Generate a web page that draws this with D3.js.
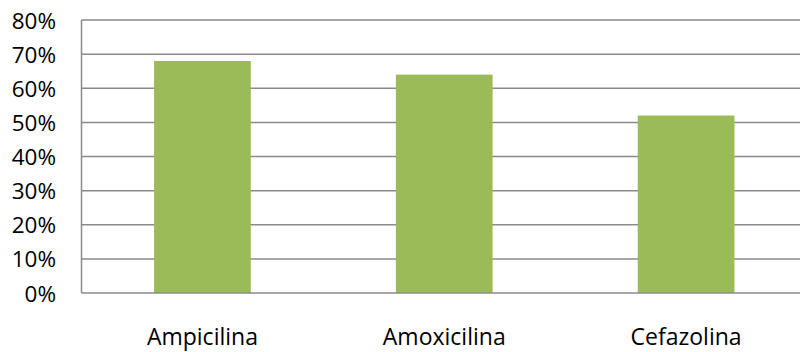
<!DOCTYPE html>
<html>
<head>
<meta charset="utf-8">
<script src="https://cdn.jsdelivr.net/npm/d3@7"></script>
<style>
  html, body { margin: 0; padding: 0; background: #fff; }
  svg { display: block; }
  text { font-family: "Open Sans", sans-serif; fill: #000; }
</style>
</head>
<body>
<svg id="chart" width="800" height="352"></svg>
<script>
const categories = ["Ampicilina", "Amoxicilina", "Cefazolina"];
const values = [0.68, 0.64, 0.52];
const yTicks = [0, 0.1, 0.2, 0.3, 0.4, 0.5, 0.6, 0.7, 0.8];

const svg = d3.select("#chart");
const plotLeft = 81.5, plotRight = 807, plotTop = 20, plotBottom = 293;

const x = d3.scaleBand().domain(categories).range([plotLeft, plotRight])
  .paddingInner(0.6).paddingOuter(0.3);
const y = d3.scaleLinear().domain([0, 0.8]).range([plotBottom, plotTop]);

// gridlines
svg.append("g").selectAll("line").data(yTicks.filter(d => d > 0)).join("line")
  .attr("x1", plotLeft).attr("x2", 800)
  .attr("y1", d => y(d)).attr("y2", d => y(d))
  .attr("stroke", "#8a8a8a").attr("stroke-width", 1.5);

// bars
svg.append("g").selectAll("rect").data(values).join("rect")
  .attr("x", (d, i) => x(categories[i]))
  .attr("width", x.bandwidth())
  .attr("y", d => y(d))
  .attr("height", d => y(0) - y(d))
  .attr("fill", "#9bbb59");

// axes lines
svg.append("line").attr("x1", plotLeft).attr("x2", plotLeft).attr("y1", plotTop).attr("y2", plotBottom)
  .attr("stroke", "#8a8a8a").attr("stroke-width", 1.5);
svg.append("line").attr("x1", plotLeft).attr("x2", 800).attr("y1", plotBottom).attr("y2", plotBottom)
  .attr("stroke", "#8a8a8a").attr("stroke-width", 1.5);

// y tick labels
const yAxis = d3.axisLeft(y).tickValues(yTicks).tickFormat(d3.format(".0%")).tickSize(0).tickPadding(0);
const yg = svg.append("g").attr("transform", `translate(56,0)`).call(yAxis);
yg.select(".domain").remove();
yg.selectAll("text").attr("font-size", "22.5px").attr("font-family", "Open Sans, sans-serif")
  .attr("fill", "#000").attr("dy", "0.36em");

// x labels
const xAxis = d3.axisBottom(x).tickSize(0).tickPadding(0);
const xg = svg.append("g").attr("transform", `translate(0,${plotBottom})`).call(xAxis);
xg.select(".domain").remove();
xg.selectAll("text").attr("font-size", "23px").attr("font-family", "Open Sans, sans-serif")
  .attr("fill", "#000").attr("dy", null).attr("y", 52);
</script>
</body>
</html>
